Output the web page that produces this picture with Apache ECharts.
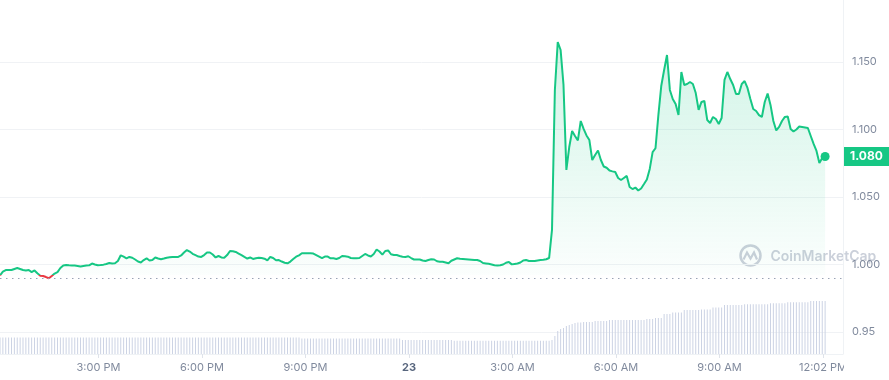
<!DOCTYPE html>
<html><head><meta charset="utf-8">
<script src="https://cdn.jsdelivr.net/npm/echarts@6/dist/echarts.min.js"></script>
<style>html,body{margin:0;padding:0;background:#fff}#c{width:889px;height:380px}</style>
</head><body><div id="c"></div>
<script>
// time in hours since 00:00 of the 22nd; one point every 5 minutes
const startHour = 12.145;
const stepHours = 5 / 60;

const prices = [
0.9920,0.9948,0.9959,0.9959,0.9959,0.9967,0.9974,0.9967,0.9959,0.9956,
0.9959,0.9944,0.9956,0.9935,0.9917,0.9915,0.9907,0.9898,0.9915,0.9933,
0.9944,0.9974,0.9993,0.9996,0.9994,0.9993,0.9992,0.9989,0.9985,0.9989,
0.9993,0.9994,1.0007,1.0000,0.9994,0.9996,0.9999,1.0004,1.0011,1.0007,
1.0009,1.0026,1.0068,1.0058,1.0046,1.0056,1.0050,1.0037,1.0022,1.0015,
1.0033,1.0046,1.0030,
1.0033,1.0052,1.0044,1.0039,1.0044,1.0050,1.0053,1.0056,1.0056,1.0056,
1.0067,1.0089,1.0107,1.0096,1.0079,1.0069,1.0059,1.0056,1.0070,1.0089,
1.0089,1.0074,1.0052,1.0063,1.0052,1.0050,1.0070,1.0100,1.0098,1.0093,
1.0081,1.0069,1.0056,1.0044,1.0052,1.0041,1.0046,1.0050,1.0048,1.0043,
1.0030,1.0056,1.0048,1.0031,1.0033,1.0022,1.0013,1.0009,1.0022,1.0041,
1.0058,1.0068,
1.0083,1.0083,1.0083,1.0083,1.0081,1.0070,1.0059,1.0048,1.0059,1.0059,
1.0046,1.0046,1.0041,1.0048,1.0063,1.0061,1.0058,1.0048,1.0046,1.0046,
1.0048,1.0063,1.0078,1.0067,1.0059,1.0078,1.0111,1.0096,1.0073,1.0100,
1.0104,1.0076,1.0070,1.0070,1.0063,1.0058,1.0056,1.0061,1.0048,1.0037,
1.0037,1.0037,1.0030,1.0026,1.0033,1.0039,1.0037,1.0024,1.0021,1.0021,
1.0015,1.0009,
1.0028,1.0037,1.0046,1.0042,1.0041,1.0039,1.0037,1.0035,1.0033,1.0033,
1.0026,1.0011,1.0008,1.0005,1.0000,0.9994,0.9993,0.9995,1.0000,1.0013,
1.0019,1.0001,1.0004,1.0007,1.0015,1.0030,1.0033,1.0026,1.0026,1.0026,
1.0030,1.0033,1.0035,1.0039,1.0048,
1.0256,1.1293,1.1648,1.1589,1.1330,1.0700,1.0870,1.0989,1.0952,1.0919,
1.1063,1.1004,1.0956,1.0922,1.0774,1.0811,1.0844,1.0774,1.0726,1.0717,
1.0696,1.0690,1.0685,1.0641,1.0626,1.0641,1.0656,1.0574,1.0559,1.0570,
1.0548,1.0563,1.0596,1.0630,1.0708,1.0833,1.0861,1.1107,1.1322,1.1441,
1.1552,1.1293,1.1226,1.1189,1.1107,1.1426,1.1330,1.1337,1.1352,1.1337,
1.1270,1.1145,1.1204,1.1211,1.1070,1.1048,1.1093,1.1078,1.1041,1.1085,
1.1367,1.1426,1.1374,1.1330,1.1263,1.1263,1.1337,1.1359,1.1308,1.1226,
1.1152,1.1137,1.1107,1.1093,1.1204,1.1267,1.1182,1.1063,1.0993,1.1019,
1.1063,1.1093,1.1096,1.1004,1.0985,1.1000,1.1022,1.1019,1.1015,1.1011,
1.0952,1.0893,1.0841,1.0752,1.0789,1.0800
];

// rolling 24h volume (relative units)
const volumes = [
1.65,1.65,1.65,1.65,1.65,1.65,1.65,1.65,1.65,1.65,
1.65,1.65,1.65,1.65,1.65,1.65,1.65,1.65,1.65,1.65,
1.65,1.65,1.65,1.65,1.65,1.65,1.65,1.65,1.65,1.65,
1.65,1.65,1.65,1.65,1.65,1.65,1.65,1.65,1.65,1.65,
1.65,1.65,1.65,1.65,1.65,1.65,1.65,1.65,1.65,1.65,
1.65,1.65,1.65,1.65,1.65,1.65,1.65,1.65,1.65,1.65,
1.65,1.65,1.65,1.65,1.65,1.65,1.65,1.65,1.65,1.65,
1.65,1.65,1.65,1.65,1.65,1.65,1.65,1.65,1.65,1.65,
1.65,1.65,1.65,1.65,1.65,1.65,1.65,1.65,1.65,1.65,
1.65,1.65,1.65,1.65,1.65,1.65,1.65,1.65,1.65,1.65,
1.65,1.65,1.65,1.65,1.65,
1.55,1.55,1.55,1.55,1.55,1.55,1.55,1.55,1.55,1.55,
1.55,1.55,1.55,1.55,1.55,1.55,1.55,1.55,1.55,1.55,
1.55,1.55,1.55,1.55,1.55,1.55,1.55,1.55,1.55,1.55,
1.55,1.55,1.55,1.55,1.55,
1.40,1.40,1.40,1.40,1.40,1.40,1.40,1.40,1.40,1.40,
1.40,1.40,1.40,1.40,1.40,1.40,1.40,1.40,
1.32,1.32,1.32,1.32,1.32,1.32,1.32,1.32,1.32,1.32,
1.32,1.32,1.32,1.32,1.32,1.32,1.32,1.32,1.32,1.32,
1.32,1.32,1.32,1.32,1.32,1.32,1.32,1.32,1.32,1.32,
1.32,1.32,1.32,1.32,
1.40,
1.8,2.3,2.5,2.6,2.8,2.9,3.0,3.1,
3.15,3.15,3.2,3.2,3.2,3.2,
3.3,3.3,3.3,3.3,3.3,
3.4,3.4,3.4,3.4,3.4,3.4,3.4,3.4,3.4,3.4,3.4,3.4,3.4,
3.5,3.5,3.5,
3.6,3.6,3.6,
4.0,4.0,4.0,
4.15,4.15,4.15,4.15,
4.4,4.4,4.4,4.4,4.4,4.4,
4.45,4.45,4.45,4.45,
4.65,4.65,4.65,4.65,
4.9,4.9,4.9,4.9,4.9,4.9,4.9,
4.97,4.97,4.97,4.97,4.97,4.97,4.97,4.97,4.97,
5.07,5.07,5.07,5.07,5.07,5.07,
5.17,5.17,5.17,5.17,5.17,5.17,5.17,5.17,
5.3,5.3,5.3,5.3,5.3,5.3
];

const baselinePrice = 0.9922;
const priceTicks = [0.95, 1.0, 1.05, 1.1, 1.15];
const priceTickLabels = ['0.95', '1.000', '1.050', '1.100', '1.150'];
const xTickHours = [15, 18, 21, 24, 27, 30, 33, 36];
const xTickLabels = ['3:00 PM', '6:00 PM', '9:00 PM', '23', '3:00 AM', '6:00 AM', '9:00 AM', '12:02 PM'];

const priceMin = 0.933704, priceMax = 1.195926;
const xMin = 12.145, xMax = 36.58;
const volumeAxisMax = 35.4;
const UP = '#16c784', DOWN = '#ea3943';

const priceData = prices.map((p, i) => [startHour + i * stepHours, p]);
const volData = volumes.map((v, i) => [startHour + i * stepHours, v]);
const last = priceData[priceData.length - 1];

const chart = echarts.init(document.getElementById('c'), null, {renderer: 'canvas'});
const gray = '#808a9d';
chart.setOption({
  animation: false,
  textStyle: {fontFamily: 'Inter'},
  grid: {left: 0, right: 46, top: 0, bottom: 26, containLabel: false},
  xAxis: {
    type: 'value', min: xMin, max: xMax,
    axisLine: {show: true, lineStyle: {color: '#eff2f5', width: 1}},
    axisTick: {show: true, customValues: xTickHours, length: 4, lineStyle: {color: '#dfe3ea'}},
    axisLabel: {
      customValues: xTickHours, color: gray, fontSize: 11, fontFamily: 'Inter', margin: 8,
      formatter: v => {
        const k = xTickHours.indexOf(Math.round(v));
        const s = xTickLabels[k];
        return k === 3 ? '{b|' + s + '}' : s;
      },
      rich: {b: {fontWeight: 'bold', color: '#58667e', fontSize: 11, fontFamily: 'Inter'}}
    },
    splitLine: {show: false}
  },
  yAxis: [{
    type: 'value', position: 'right', min: priceMin, max: priceMax,
    axisLine: {show: true, lineStyle: {color: '#eff2f5'}},
    axisTick: {show: false, customValues: priceTicks},
    axisLabel: {
      customValues: priceTicks, color: gray, fontSize: 11, fontFamily: 'Inter', margin: 9,
      formatter: v => {
        let k = 0, d = 1e9;
        priceTicks.forEach((t, j) => { if (Math.abs(t - v) < d) { d = Math.abs(t - v); k = j; } });
        return priceTickLabels[k];
      }
    },
    splitLine: {show: true, lineStyle: {color: '#f0f2f5'}}
  }, {
    type: 'value', min: 0, max: volumeAxisMax, show: false
  }],
  series: [{
    type: 'line', data: priceData, showSymbol: false, symbol: 'none', z: 3,
    lineStyle: {width: 2, color: UP},
    areaStyle: {
      origin: baselinePrice,
      color: new echarts.graphic.LinearGradient(0, 0, 0, 1, [
        {offset: 0, color: 'rgba(22,199,132,0.28)'},
        {offset: 1, color: 'rgba(22,199,132,0.02)'}
      ])
    },
    markLine: {
      silent: true, symbol: 'none',
      data: [
        {yAxis: baselinePrice, lineStyle: {type: [1.5, 4.5], color: '#9aa3b5', width: 1}, label: {show: false}},
        {yAxis: last[1], lineStyle: {color: 'rgba(0,0,0,0)', width: 1, type: 'solid'},
         label: {show: true, position: 'end', distance: 1, formatter: last[1].toFixed(3),
                 backgroundColor: UP, color: '#fff', fontWeight: 'bold', fontSize: 12,
                 fontFamily: 'Inter', padding: [4, 7, 3, 6]}}
      ]
    }
  }, {
    type: 'bar', yAxisIndex: 1, data: volData, barWidth: 1, silent: true, z: 1,
    itemStyle: {color: '#ccd3e4'}
  }, {
    type: 'scatter', data: [last], symbolSize: 9, z: 5, silent: true,
    itemStyle: {color: UP, opacity: 1}
  }],
  graphic: [
    {type: 'rect', shape: {x: 844, y: 357, width: 45, height: 23}, style: {fill: '#fff'}, z: 100},
    {type: 'group', left: 738, top: 243, z: 50, children: [
      {type: 'circle', shape: {cx: 12, cy: 11, r: 10}, style: {fill: 'none', stroke: '#cbd0da', lineWidth: 2.5}},
      {type: 'polyline', shape: {points: [[5, 15], [8.5, 8], [12, 14], [15.5, 8], [18.5, 15]]},
       style: {stroke: '#cbd0da', lineWidth: 2.2, fill: 'none'}},
      {type: 'text', x: 32, y: 12, style: {text: 'CoinMarketCap', font: '600 14px Inter', fill: '#cbd0da', verticalAlign: 'middle'}}
    ]}
  ]
});

// colour the price line red below the opening price, green above it
const by = chart.convertToPixel({yAxisIndex: 0}, baselinePrice);
const h = chart.getHeight();
const f = by / h;
chart.setOption({series: [{
  lineStyle: {color: new echarts.graphic.LinearGradient(0, 0, 0, h, [
    {offset: 0, color: UP}, {offset: f, color: UP}, {offset: f, color: DOWN}, {offset: 1, color: DOWN}
  ], true)}
}]});
</script>
</body></html>
